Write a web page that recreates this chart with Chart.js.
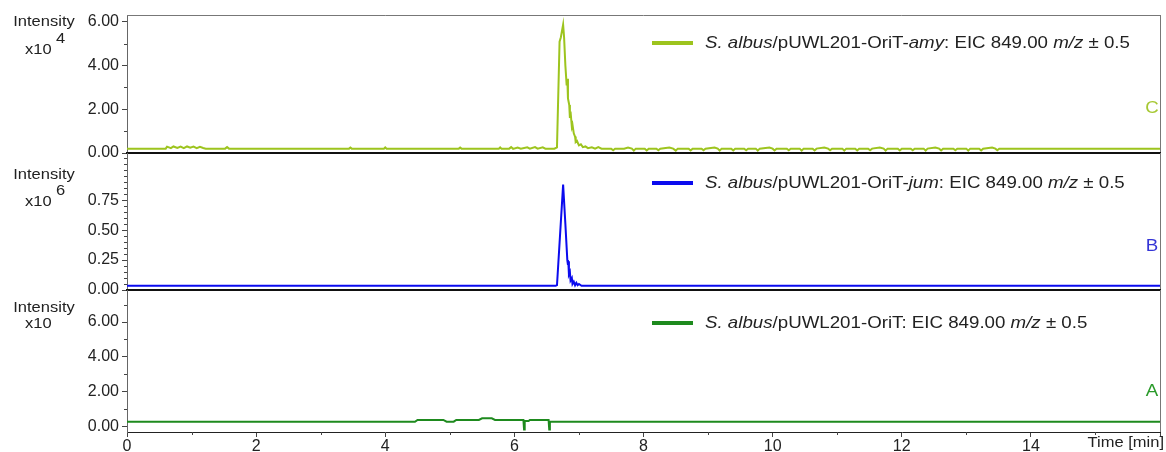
<html>
<head>
<meta charset="UTF-8">
<title>EIC 849.00 m/z</title>
<style>
body {
    margin: 0;
    background: white;
}
div.stack {
    position: relative;
    width: 1166px;
    height: 452px;
}
div.stack canvas {
    position: absolute;
    left: 0;
    top: 0;
}
</style>
<script src="https://cdn.jsdelivr.net/npm/chart.js@4.4.0/dist/chart.umd.min.js"></script>
</head>
<body>
<div class="stack">
<canvas id="panelC" width="1166" height="452"></canvas>
<canvas id="panelB" width="1166" height="452"></canvas>
<canvas id="panelA" width="1166" height="452"></canvas>
</div>
<script>
// [time (min), intensity] for each extracted ion chromatogram
const amyTrace = [
    [0, 0.2], [0.6, 0.2], [0.62, 0.29], [0.68, 0.22], [0.72, 0.3], [0.78, 0.23], [0.83, 0.29], [0.88, 0.22],
    [0.93, 0.3], [0.98, 0.24], [1.03, 0.29], [1.08, 0.22], [1.13, 0.28], [1.18, 0.23], [1.22, 0.2],
    [1.52, 0.2], [1.55, 0.27], [1.58, 0.2], [3.44, 0.2], [3.46, 0.25], [3.48, 0.2], [3.98, 0.2], [4.0, 0.26], [4.02, 0.2],
    [5.14, 0.2], [5.16, 0.25], [5.18, 0.2], [5.76, 0.2], [5.78, 0.26], [5.8, 0.2],
    [5.92, 0.2], [5.95, 0.27], [5.98, 0.19], [6.05, 0.25], [6.1, 0.2], [6.2, 0.26], [6.24, 0.2], [6.32, 0.27],
    [6.36, 0.2], [6.44, 0.26], [6.48, 0.2], [6.62, 0.2], [6.66, 0.26], [6.7, 5.1], [6.72, 5.3], [6.755, 5.88],
    [6.77, 5.3], [6.79, 4.0], [6.81, 3.1], [6.82, 3.4], [6.83, 2.5], [6.85, 2.2], [6.86, 1.6], [6.87, 1.9],
    [6.89, 1.2], [6.9, 1.3], [6.92, 0.9], [6.94, 0.75], [6.95, 0.5], [6.97, 0.55], [7.0, 0.35], [7.03, 0.4],
    [7.06, 0.27], [7.1, 0.3], [7.14, 0.22], [7.2, 0.26], [7.25, 0.2], [7.3, 0.27], [7.35, 0.2],
    [7.5, 0.2], [7.53, 0.13], [7.56, 0.2], [7.7, 0.2], [7.76, 0.25], [7.82, 0.2], [7.85, 0.11], [7.88, 0.2],
    [8.02, 0.2], [8.05, 0.12], [8.08, 0.2], [8.2, 0.2], [8.23, 0.13], [8.26, 0.2], [8.4, 0.25], [8.46, 0.2],
    [8.5, 0.11], [8.53, 0.2], [8.7, 0.2], [8.73, 0.12], [8.76, 0.2], [8.9, 0.2], [8.93, 0.13], [8.96, 0.2],
    [9.1, 0.25], [9.15, 0.2], [9.18, 0.11], [9.21, 0.2], [9.36, 0.2], [9.39, 0.12], [9.42, 0.2], [9.56, 0.2],
    [9.59, 0.13], [9.62, 0.2], [9.74, 0.2], [9.77, 0.11], [9.8, 0.2], [9.95, 0.25], [10.0, 0.2], [10.03, 0.12],
    [10.06, 0.2], [10.22, 0.2], [10.25, 0.13], [10.28, 0.2], [10.42, 0.2], [10.45, 0.11], [10.48, 0.2],
    [10.62, 0.2], [10.65, 0.12], [10.68, 0.2], [10.8, 0.25], [10.86, 0.2], [10.89, 0.13], [10.92, 0.2],
    [11.08, 0.2], [11.11, 0.11], [11.14, 0.2], [11.28, 0.2], [11.31, 0.12], [11.34, 0.2], [11.48, 0.2],
    [11.51, 0.13], [11.54, 0.2], [11.66, 0.25], [11.72, 0.2], [11.75, 0.11], [11.78, 0.2], [11.94, 0.2],
    [11.97, 0.12], [12.0, 0.2], [12.14, 0.2], [12.17, 0.13], [12.2, 0.2], [12.34, 0.2], [12.37, 0.11],
    [12.4, 0.2], [12.52, 0.25], [12.58, 0.2], [12.61, 0.12], [12.64, 0.2], [12.8, 0.2], [12.83, 0.13],
    [12.86, 0.2], [13.0, 0.2], [13.03, 0.11], [13.06, 0.2], [13.2, 0.2], [13.23, 0.12], [13.26, 0.2],
    [13.4, 0.25], [13.45, 0.2], [13.48, 0.13], [13.51, 0.2], [13.62, 0.2], [16, 0.2]
]
const jumTrace = [
    [0, 0.035], [6.64, 0.035], [6.66, 0.04], [6.755, 0.88], [6.79, 0.55], [6.82, 0.25], [6.83, 0.21],
    [6.835, 0.24], [6.845, 0.13], [6.86, 0.15], [6.87, 0.08], [6.89, 0.1], [6.9, 0.05], [6.92, 0.07],
    [6.94, 0.04], [6.96, 0.06], [6.98, 0.04], [7.0, 0.05], [7.04, 0.035], [16, 0.035]
]
const oriTrace = [
    [0, 0.29], [4.46, 0.29], [4.5, 0.4], [4.9, 0.4], [4.95, 0.3], [5.06, 0.3], [5.1, 0.4], [5.45, 0.4],
    [5.5, 0.49], [5.65, 0.49], [5.7, 0.4], [6.14, 0.4], [6.15, -0.15], [6.16, 0.34], [6.22, 0.34],
    [6.24, 0.4], [6.53, 0.4], [6.54, -0.15], [6.55, 0.29], [16, 0.29]
]

// axis ticks
const timeMajor = [0, 2, 4, 6, 8, 10, 12, 14, 16]
const timeMinor = [1, 3, 5, 7, 9, 11, 13, 15]
const amyMajor = [0, 2, 4, 6]
const amyMinor = [1, 3, 5]
const jumMajor = [0, 0.25, 0.5, 0.75]
const jumMinor = [0.05, 0.1, 0.15, 0.2, 0.3, 0.35, 0.4, 0.45, 0.55, 0.6, 0.65, 0.7, 0.8, 0.85, 0.9, 0.95, 1.0, 1.05, 1.1]
const oriMajor = [0, 2, 4, 6]
const oriMinor = [1, 3, 5, 7]

// legend text, [text, italic]
const amyLegend = [["S. albus", true], ["/pUWL201-OriT-", false], ["amy", true], [": EIC 849.00 ", false], ["m/z", true], [" \u00b1 0.5", false]]
const jumLegend = [["S. albus", true], ["/pUWL201-OriT-", false], ["jum", true], [": EIC 849.00 ", false], ["m/z", true], [" \u00b1 0.5", false]]
const oriLegend = [["S. albus", true], ["/pUWL201-OriT: EIC 849.00 ", false], ["m/z", true], [" \u00b1 0.5", false]]

const FONT = '"Liberation Sans", Arial, sans-serif'
const TEXT = "#222"
const stretch = 1.1

function text(ctx, str, x, y, size, align, color, italic) {
    ctx.save()
    ctx.translate(x, y)
    ctx.scale(stretch, 1)
    ctx.font = (italic ? "italic " : "") + size + "px " + FONT
    ctx.fillStyle = color
    ctx.textAlign = align
    ctx.textBaseline = "middle"
    ctx.fillText(str, 0, 0)
    ctx.restore()
}

function richText(ctx, parts, x, y, size) {
    ctx.save()
    ctx.translate(x, y)
    ctx.scale(stretch, 1)
    ctx.fillStyle = TEXT
    ctx.textBaseline = "middle"
    ctx.textAlign = "left"
    let cx = 0
    for (const [str, italic] of parts) {
        ctx.font = (italic ? "italic " : "") + size + "px " + FONT
        ctx.fillText(str, cx, 0)
        cx += ctx.measureText(str).width
    }
    ctx.restore()
}

function hline(ctx, x0, x1, y, color, width) {
    ctx.beginPath()
    ctx.strokeStyle = color
    ctx.lineWidth = width
    ctx.moveTo(x0, y)
    ctx.lineTo(x1, y)
    ctx.stroke()
}

// frame, minor ticks, unit label, legend and panel letter
function decor(p) {
    return {
        id: "decor",
        afterDraw(chart) {
            const ctx = chart.ctx
            const a = chart.chartArea
            const y = chart.scales.y
            ctx.save()
            if (p.topLine) hline(ctx, a.left, a.right, a.top + 0.5, "#777", 1)
            ctx.beginPath()
            ctx.strokeStyle = "#777"
            ctx.lineWidth = 1
            ctx.moveTo(a.right + 0.5, a.top)
            ctx.lineTo(a.right + 0.5, a.bottom)
            ctx.stroke()
            if (p.bottomLine) hline(ctx, a.left - 1, a.right + 1, a.bottom, "#111", 2)

            ctx.strokeStyle = "#444"
            ctx.lineWidth = 1
            for (const v of p.minor) {
                const py = Math.round(y.getPixelForValue(v)) + 0.5
                ctx.beginPath()
                ctx.moveTo(a.left - 3, py)
                ctx.lineTo(a.left, py)
                ctx.stroke()
            }
            if (p.xAxis) {
                const x = chart.scales.x
                for (const v of timeMinor) {
                    const px = Math.round(x.getPixelForValue(v)) + 0.5
                    ctx.beginPath()
                    ctx.moveTo(px, a.bottom)
                    ctx.lineTo(px, a.bottom + 3)
                    ctx.stroke()
                }
                text(ctx, "Time [min]", 1164, 443, 15, "right", TEXT)
            }

            text(ctx, "Intensity", 44, p.unitY, 15, "center", TEXT)
            text(ctx, "x10", 25, p.unitY + p.gap, 15, "left", TEXT)
            if (p.exp) text(ctx, p.exp, 56, p.unitY + p.gap - 11, 15, "left", TEXT)

            hline(ctx, 652, 693, p.legendY, p.color, 4)
            richText(ctx, p.legend, 705, p.legendY, 17)
            text(ctx, p.letter, 1152, p.letterY, 17, "center", p.letterColor)
            ctx.restore()
        }
    }
}

function panel(id, p) {
    const font = {family: FONT, size: 16}
    return new Chart(document.getElementById(id), {
        type: "line",
        data: {datasets: [{
            data: p.trace,
            borderColor: p.color,
            borderWidth: 2,
            pointRadius: 0,
            tension: 0,
        }]},
        options: {
            responsive: false,
            animation: false,
            events: [],
            layout: {padding: {top: p.top, bottom: p.bottom, left: 0, right: 6}},
            plugins: {legend: {display: false}, tooltip: {enabled: false}},
            scales: {
                x: {
                    type: "linear",
                    min: 0,
                    max: 16,
                    display: p.xAxis,
                    afterFit: (s) => { s.height = p.xAxis ? 20 : 0 },
                    afterBuildTicks: (s) => { s.ticks = timeMajor.map(v => ({value: v})) },
                    ticks: {
                        callback: (v) => v < 16 ? String(v) : "",
                        font: font, color: TEXT, padding: 0, maxRotation: 0, autoSkip: false,
                    },
                    grid: {drawOnChartArea: false, tickLength: 5, tickColor: "#444"},
                    border: {color: "#222", width: 1},
                },
                y: {
                    type: "linear",
                    min: p.min,
                    max: p.max,
                    afterFit: (s) => { s.width = 127 },
                    afterBuildTicks: (s) => { s.ticks = p.major.map(v => ({value: v})) },
                    ticks: {callback: (v) => v.toFixed(2), font: font, color: TEXT, padding: 3},
                    grid: {drawOnChartArea: false, tickLength: 5, tickColor: "#444"},
                    border: {color: "#666", width: 1},
                },
            },
        },
        plugins: [decor(p)],
    })
}

panel("panelC", {
    trace: amyTrace, color: "#9dc41e", min: 0, max: 6.32, major: amyMajor, minor: amyMinor,
    top: 15, bottom: 299, xAxis: false, topLine: true, bottomLine: true,
    unitY: 22, gap: 28, exp: "4", legend: amyLegend, legendY: 43,
    letter: "C", letterY: 108, letterColor: "#a6c832",
})
panel("panelB", {
    trace: jumTrace, color: "#0b0bee", min: 0, max: 1.144, major: jumMajor, minor: jumMinor,
    top: 153, bottom: 162, xAxis: false, topLine: false, bottomLine: true,
    unitY: 175, gap: 27, exp: "6", legend: jumLegend, legendY: 183,
    letter: "B", letterY: 246, letterColor: "#3535d6",
})
panel("panelA", {
    trace: oriTrace, color: "#1e8a1e", min: -0.29, max: 7.83, major: oriMajor, minor: oriMinor,
    top: 290, bottom: 0, xAxis: true, topLine: false, bottomLine: false,
    unitY: 308, gap: 16, exp: "", legend: oriLegend, legendY: 323,
    letter: "A", letterY: 391, letterColor: "#2a9a2a",
})
</script>
</body>
</html>
